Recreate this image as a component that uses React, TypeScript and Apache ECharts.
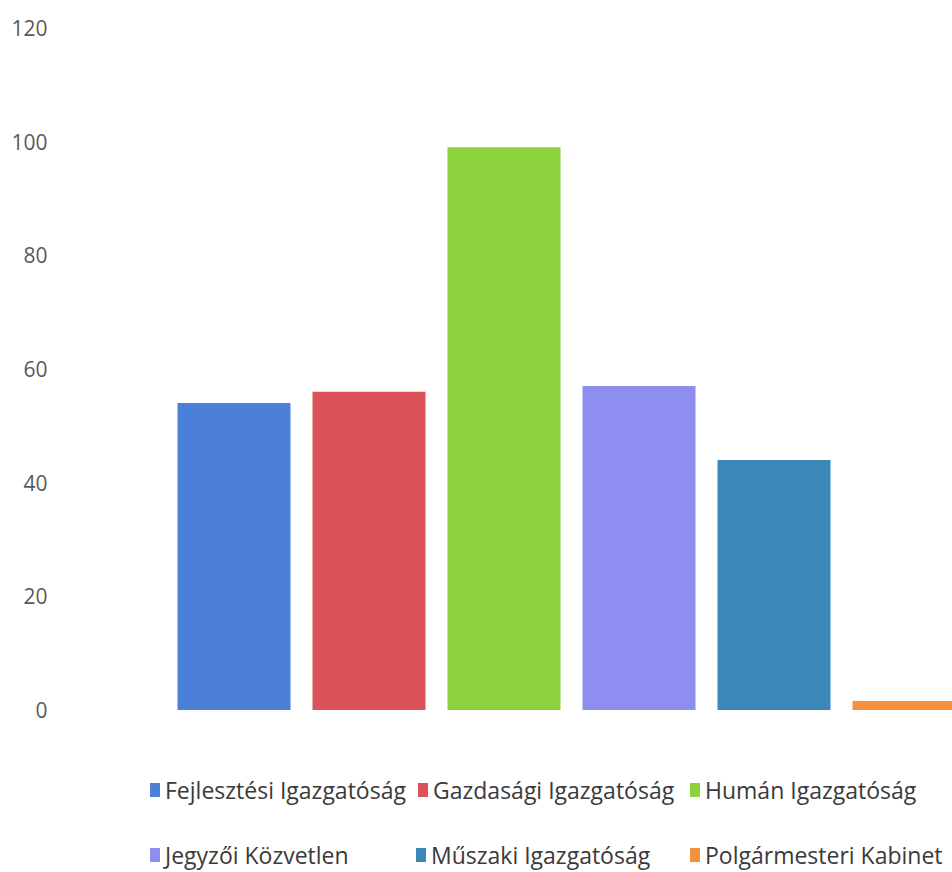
import React, { useEffect, useRef } from "react";
import * as echarts from "echarts";

const categories = ["Fejlesztési Igazgatóság", "Gazdasági Igazgatóság", "Humán Igazgatóság", "Jegyzői Közvetlen", "Műszaki Igazgatóság", "Polgármesteri Kabinet"];
const values = [54, 56, 99, 57, 44, 1.6];
const colors = ["#4c80d8", "#db5358", "#8ed13e", "#8e8ef0", "#3b87b8", "#f6913f"];
const yTicks = [0, 20, 40, 60, 80, 100, 120];

const legendPos = [
  { left: 150, top: 776 },
  { left: 418, top: 776 },
  { left: 690, top: 776 },
  { left: 150, top: 841 },
  { left: 416, top: 841 },
  { left: 690, top: 841 },
];

export default function App() {
  const ref = useRef<HTMLDivElement>(null);
  useEffect(() => {
    if (!ref.current) return;
    const chart = echarts.init(ref.current, undefined, { renderer: "svg" });
    const font = "'Open Sans', 'Noto Sans', sans-serif";
    chart.setOption({
      animation: false,
      backgroundColor: "#ffffff",
      grid: { left: 166.5, right: 23.5, top: 28, bottom: 162 },
      xAxis: {
        type: "category",
        data: categories,
        axisLine: { show: false },
        axisTick: { show: false },
        axisLabel: { show: false },
        splitLine: { show: false },
      },
      yAxis: {
        type: "value",
        min: yTicks[0],
        max: yTicks[yTicks.length - 1],
        interval: 20,
        axisLine: { show: false },
        axisTick: { show: false },
        splitLine: { show: false },
        axisLabel: {
          margin: 119,
          color: "#5a5a5a",
          fontSize: 21,
          fontFamily: font,
        },
      },
      legend: categories.map((name, i) => ({
        data: [name],
        left: legendPos[i].left,
        top: legendPos[i].top,
        padding: 0,
        itemWidth: 10,
        itemHeight: 14,
        icon: "rect",
        selectedMode: false,
        textStyle: { color: "#3a3a3a", fontSize: 23, fontFamily: font, lineHeight: 28 },
      })),
      series: categories.map((name, i) => ({
        name,
        type: "bar",
        stack: "all",
        barWidth: 113,
        itemStyle: { color: colors[i] },
        data: categories.map((_, j) => (j === i ? values[i] : "-")),
      })),
    });
    return () => chart.dispose();
  }, []);
  return (
    <div style={{ position: "fixed", left: 0, top: 0, width: 952, height: 872, overflow: "hidden", background: "#fff" }}>
      <div ref={ref} style={{ width: 1000, height: 872 }} />
    </div>
  );
}
